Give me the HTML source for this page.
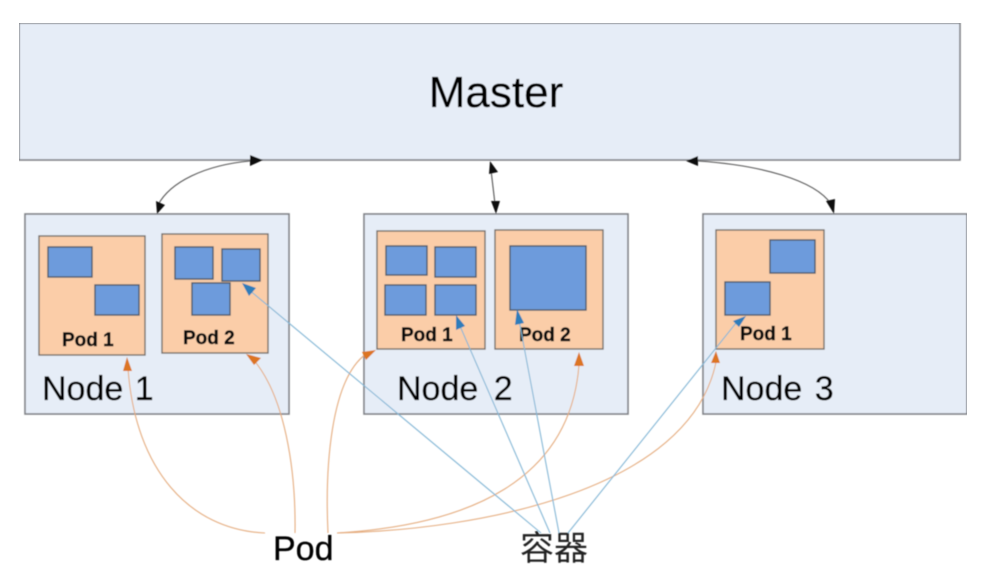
<!DOCTYPE html>
<html><head><meta charset="utf-8">
<style>
html,body{margin:0;padding:0;background:#fff;width:988px;height:584px;overflow:hidden}
svg{display:block;font-family:"Liberation Sans","Noto Sans CJK SC",sans-serif}
.b{fill:#e6edf7;stroke:#7f8186;stroke-width:1.6}
.p{fill:#fbcda8;stroke:#756e69;stroke-width:1.4}
.c{fill:#6d9bdc;stroke:#4f5a69;stroke-width:1.4}
.o{fill:none;stroke:#e5ad80;stroke-width:1.1}
.l{fill:none;stroke:#85b7d6;stroke-width:1.1}
.k{fill:none;stroke:#555;stroke-width:1.1}
.t{font-size:34px;fill:#000;stroke:#000;stroke-width:.3}
.s{font-size:19px;font-weight:bold;fill:#111;stroke:#111;stroke-width:.4}
</style></head><body>
<svg width="988" height="584" viewBox="0 0 988 584" xmlns="http://www.w3.org/2000/svg">
<defs><filter id="f" x="0" y="0" width="100%" height="100%"><feGaussianBlur stdDeviation="0.45"/></filter></defs>
<g filter="url(#f)">
<rect class="b" x="19" y="23" width="941" height="137"/>
<rect class="b" x="25" y="214" width="264" height="200"/>
<rect class="b" x="364" y="214" width="264" height="200"/>
<rect class="b" x="703" y="214" width="264" height="200"/>

<rect class="p" x="39" y="236" width="106" height="119"/>
<rect class="p" x="162" y="234" width="106" height="119"/>
<rect class="p" x="377" y="231" width="108" height="118"/>
<rect class="p" x="495" y="230" width="108" height="119"/>
<rect class="p" x="716" y="230" width="108" height="119"/>

<rect class="c" x="48" y="247" width="44" height="30"/>
<rect class="c" x="95" y="285" width="44" height="30"/>
<rect class="c" x="175" y="247" width="38" height="32"/>
<rect class="c" x="222" y="249" width="38" height="32"/>
<rect class="c" x="192" y="283" width="38" height="32"/>
<rect class="c" x="386" y="246" width="41" height="29"/>
<rect class="c" x="435" y="247" width="41" height="30"/>
<rect class="c" x="385" y="285" width="41" height="30"/>
<rect class="c" x="435" y="285" width="41" height="30"/>
<rect class="c" x="510" y="246" width="76" height="64"/>
<rect class="c" x="770" y="240" width="45" height="33"/>
<rect class="c" x="725" y="282" width="45" height="33"/>

<text x="496" y="107" text-anchor="middle" font-size="44" fill="#000" stroke="#000" stroke-width=".3">Master</text>
<text class="t" x="42" y="400" word-spacing="2">Node 1</text>
<text class="t" x="397" y="400" word-spacing="6">Node 2</text>
<text class="t" x="721" y="400" word-spacing="3">Node 3</text>
<text class="s" x="62" y="346">Pod 1</text>
<text class="s" x="183" y="344">Pod 2</text>
<text class="s" x="401" y="341">Pod 1</text>
<text class="s" x="519" y="341">Pod 2</text>
<text class="s" x="740" y="340">Pod 1</text>
<text x="273" y="560" font-size="34" fill="#000" stroke="#000" stroke-width=".3">Pod</text>
<text x="520" y="560" font-size="34" fill="#222">容器</text>

<path class="k" d="M250,161 C205,165 170,182 158,205"/>
<polygon points="263,160 250,155 250,166" fill="#111"/>
<polygon points="157,214 156,201 165,205" fill="#111"/>
<path class="k" d="M491,170 L495,204"/>
<polygon points="490,161 498,172 489,174" fill="#111"/>
<polygon points="496,214 491,201 500,201" fill="#111"/>
<path class="k" d="M698,161 C760,165 815,180 831,204"/>
<polygon points="686,161 698,156 698,166" fill="#111"/>
<polygon points="834,214 826,201 835,199" fill="#111"/>

<path class="o" d="M265,533 C190,530 135,470 128,368"/>
<polygon points="127,357 132,371 123,371" fill="#dc7420"/>
<path class="o" d="M295,533 C296,470 285,395 252,358"/>
<polygon points="246,354 261,358 254,365" fill="#dc7420"/>
<path class="o" d="M328,533 C325,470 330,380 366,354"/>
<polygon points="376,350 366,360 362,352" fill="#dc7420"/>
<path class="o" d="M337,533 C470,525 570,480 579,365"/>
<polygon points="579,352 584,366 574,366" fill="#dc7420"/>
<path class="o" d="M337,533 C480,530 690,490 716,362"/>
<polygon points="716,351 720,363 711,363" fill="#dc7420"/>

<path class="l" d="M541,533 L248,289"/>
<polygon points="242,283 256,288 249,296" fill="#2f7dba"/>
<path class="l" d="M550,533 L460,326"/>
<polygon points="456,315 465,326 456,330" fill="#2f7dba"/>
<path class="l" d="M559,533 L519,320"/>
<polygon points="517,309 524,323 515,325" fill="#2f7dba"/>
<path class="l" d="M568,533 L736,323"/>
<polygon points="746,316 739,327 733,321" fill="#2f7dba"/>
</g>
</svg>
</body></html>
